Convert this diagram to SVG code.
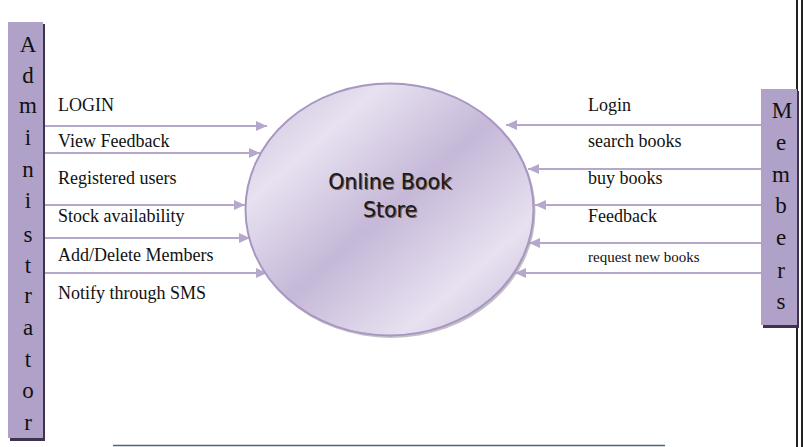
<svg xmlns="http://www.w3.org/2000/svg" width="806" height="447" viewBox="0 0 806 447">
<style>
.ent{fill:#b0a1c8;}
.sh{fill:#3f3450;}
.letter{font-family:"Liberation Serif","Times New Roman",serif;font-size:23px;fill:#111;text-anchor:middle;}
.lbl{font-family:"Liberation Serif","Times New Roman",serif;font-size:18px;fill:#111;}
.small{font-size:15px;}
.flow{stroke:#b5a8cc;stroke-width:2;fill:none;marker-end:url(#ah);}
.ptitle{font-family:"DejaVu Sans","Verdana",sans-serif;font-size:20.5px;text-anchor:middle;}
</style>
<defs>
<marker id="ah" markerUnits="userSpaceOnUse" markerWidth="12" markerHeight="10" refX="11" refY="5" orient="auto">
<path d="M0,0 L11,5 L0,10 Z" fill="#b5a8cc"/>
</marker>
<linearGradient id="g" x1="0" y1="0" x2="1" y2="1">
<stop offset="0" stop-color="#cabedb"/>
<stop offset="0.24" stop-color="#e7e1f0"/>
<stop offset="0.5" stop-color="#c5b8d8"/>
<stop offset="0.77" stop-color="#e7e1f0"/>
<stop offset="1" stop-color="#c5b8d8"/>
</linearGradient>
</defs>
<rect width="806" height="447" fill="#fff"/>
<g id="frame">
<rect x="796" y="0" width="2" height="447" fill="#222"/>
<rect x="801" y="0" width="2" height="447" fill="#222"/>
<line x1="113" y1="445.5" x2="665" y2="445.5" stroke="#4d6584" stroke-width="1.5"/>
</g>
<g id="connectors">
<line class="flow" x1="43" y1="126" x2="267" y2="126"/>
<line class="flow" x1="43" y1="153" x2="260" y2="153"/>
<line class="flow" x1="43" y1="205" x2="245" y2="205"/>
<line class="flow" x1="43" y1="238" x2="250" y2="238"/>
<line class="flow" x1="43" y1="273" x2="267" y2="273"/>
<line class="flow" x1="761" y1="125" x2="506" y2="125"/>
<line class="flow" x1="761" y1="169" x2="528" y2="169"/>
<line class="flow" x1="761" y1="205" x2="535" y2="205"/>
<line class="flow" x1="761" y1="243" x2="529" y2="243"/>
<line class="flow" x1="761" y1="273" x2="515" y2="273"/>
</g>
<g id="labels">
<text class="lbl" x="58" y="111">LOGIN</text>
<text class="lbl" x="58" y="147">View Feedback</text>
<text class="lbl" x="58" y="184">Registered users</text>
<text class="lbl" x="58" y="222">Stock availability</text>
<text class="lbl" x="58" y="261">Add/Delete Members</text>
<text class="lbl" x="58" y="299">Notify through SMS</text>
<text class="lbl" x="588" y="111">Login</text>
<text class="lbl" x="588" y="147">search books</text>
<text class="lbl" x="588" y="184">buy books</text>
<text class="lbl" x="588" y="222">Feedback</text>
<text class="lbl small" x="588" y="262">request new books</text>
</g>
<g id="administrator">
<rect class="sh" x="10" y="24" width="35" height="417"/>
<rect class="ent" x="8" y="22" width="35" height="416"/>
<text class="letter" x="28" y="52">A</text>
<text class="letter" x="28" y="83">d</text>
<text class="letter" x="28" y="113">m</text>
<text class="letter" x="28" y="145">i</text>
<text class="letter" x="28" y="177">n</text>
<text class="letter" x="28" y="208">i</text>
<text class="letter" x="28" y="242">s</text>
<text class="letter" x="28" y="273">t</text>
<text class="letter" x="28" y="303">r</text>
<text class="letter" x="28" y="335">a</text>
<text class="letter" x="28" y="367">t</text>
<text class="letter" x="28" y="398">o</text>
<text class="letter" x="28" y="430">r</text>
</g>
<g id="members">
<rect class="sh" x="763" y="91" width="36" height="237"/>
<rect class="ent" x="761" y="89" width="36" height="236"/>
<text class="letter" x="782" y="118">M</text>
<text class="letter" x="781" y="150">e</text>
<text class="letter" x="781" y="182">m</text>
<text class="letter" x="781" y="213">b</text>
<text class="letter" x="781" y="245">e</text>
<text class="letter" x="781" y="278">r</text>
<text class="letter" x="781" y="309">s</text>
</g>
<g id="store">
<ellipse cx="391" cy="211.5" rx="144.5" ry="126.5" fill="#a9a4b0" opacity="0.7"/>
<ellipse cx="389.5" cy="209.5" rx="144" ry="126" fill="url(#g)" stroke="#a897c1" stroke-width="2"/>
<text class="ptitle" x="391.2" y="190.2" fill="#7a5a48">Online Book</text>
<text class="ptitle" x="391.2" y="218.2" fill="#7a5a48">Store</text>
<text class="ptitle" x="390" y="189" fill="#1a1a1a">Online Book</text>
<text class="ptitle" x="390" y="217" fill="#1a1a1a">Store</text>
</g>
</svg>
